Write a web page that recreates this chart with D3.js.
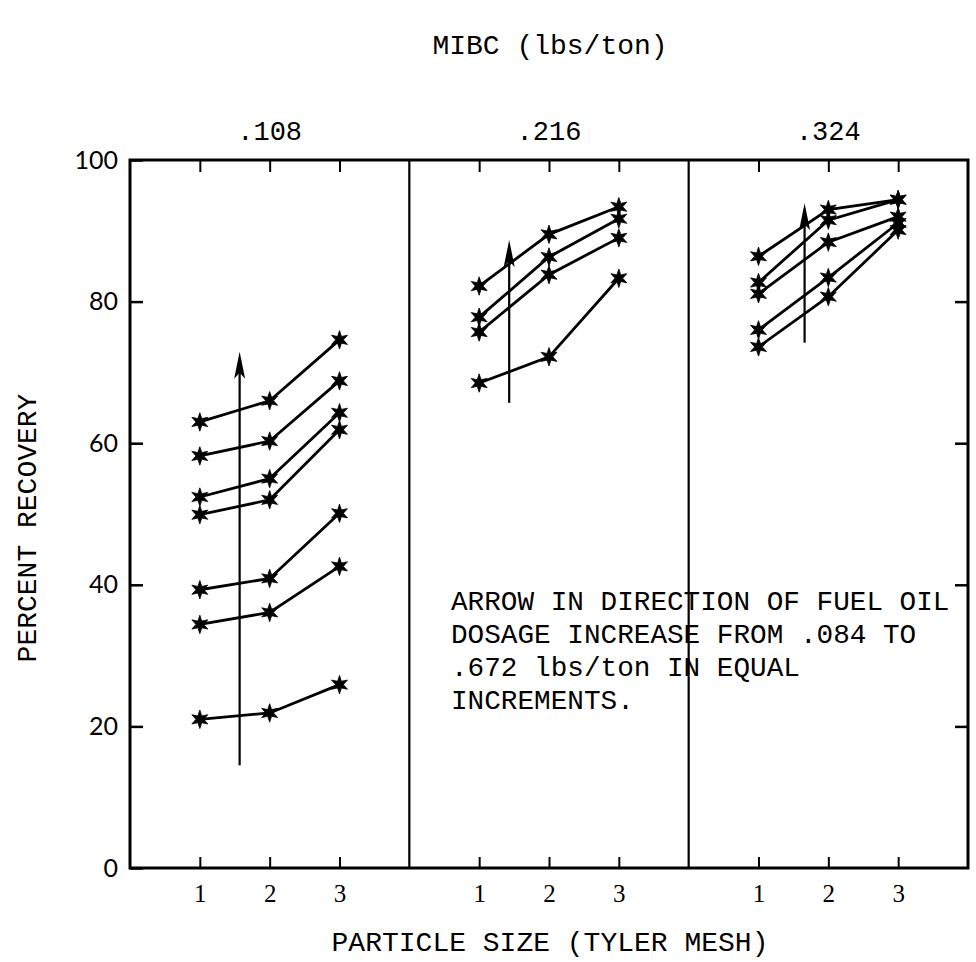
<!DOCTYPE html>
<html>
<head>
<meta charset="utf-8">
<script src="https://cdn.jsdelivr.net/npm/d3@7"></script>
<style>
  html, body { margin: 0; padding: 0; background: #fff; }
  svg { display: block; }
</style>
</head>
<body>
<svg id="chart" width="976" height="962"></svg>
<script>
// ---- data ----
const panelLabels = [".108", ".216", ".324"];
const particleSizes = [1, 2, 3];
const yTickValues = [0, 20, 40, 60, 80, 100];

const panel1Series = [
  [63.0, 66.0, 74.6],
  [58.2, 60.3, 68.8],
  [52.4, 55.0, 64.3],
  [49.9, 52.0, 61.9],
  [39.3, 40.9, 50.1],
  [34.4, 36.1, 42.6],
  [21.0, 21.9, 25.9]
];
const panel2Series = [
  [82.2, 89.5, 93.4],
  [77.8, 86.3, 91.7],
  [75.7, 83.8, 89.0],
  [68.5, 72.2, 83.3]
];
const panel3Series = [
  [86.4, 93.0, 94.4],
  [82.7, 91.5, 94.4],
  [81.1, 88.4, 92.0],
  [76.0, 83.4, 91.1],
  [73.6, 80.7, 90.1]
];
const arrowX = [1.57, 1.43, 1.66];
const arrowFrom = [14.5, 65.7, 74.2];
const arrowTo = [72.9, 88.7, 93.9];

const topTitle = "MIBC (lbs/ton)";
const xTitle = "PARTICLE SIZE (TYLER MESH)";
const yTitle = "PERCENT RECOVERY";
const noteLines = [
  "ARROW IN DIRECTION OF FUEL OIL",
  "DOSAGE INCREASE FROM .084 TO",
  ".672 lbs/ton IN EQUAL",
  "INCREMENTS."
];

(function () {
// ---- layout ----
const svg = d3.select("#chart");
const mLeft = 130, mRight = 968, mTop = 160, mBottom = 868;
const mono = "'Liberation Mono', 'DejaVu Sans Mono', monospace";

const y = d3.scaleLinear().domain([0, 100]).range([mBottom, mTop]);
const panelEdge = d3.scaleLinear().domain([0, 3]).range([mLeft, mRight]);
const panelX = i => d3.scaleLinear().domain([0, 4]).range([panelEdge(i), panelEdge(i + 1)]);

const allSeries = [panel1Series, panel2Series, panel3Series];

// six-pointed star symbol
const star6 = {
  draw(context, size) {
    const ro = Math.sqrt(size) / 2, ri = ro * 0.42;
    for (let k = 0; k < 12; k++) {
      const a = -Math.PI / 2 + k * Math.PI / 6;
      const r = k % 2 ? ri : ro;
      const px = r * Math.cos(a), py = r * Math.sin(a);
      if (k === 0) context.moveTo(px, py); else context.lineTo(px, py);
    }
    context.closePath();
  }
};

// frame
svg.append("rect")
  .attr("x", mLeft).attr("y", mTop)
  .attr("width", mRight - mLeft).attr("height", mBottom - mTop)
  .attr("fill", "none").attr("stroke", "#000").attr("stroke-width", 3);

// panel dividers
[1, 2].forEach(i => {
  svg.append("line")
    .attr("x1", panelEdge(i)).attr("x2", panelEdge(i))
    .attr("y1", mTop).attr("y2", mBottom)
    .attr("stroke", "#000").attr("stroke-width", 2.2);
});

// left axis (inward ticks) with labels
const yAxisL = svg.append("g").attr("transform", `translate(${mLeft},0)`)
  .call(d3.axisLeft(y).tickValues(yTickValues).tickSize(-13).tickPadding(12));
yAxisL.select(".domain").remove();
yAxisL.selectAll("line").attr("stroke", "#000").attr("stroke-width", 2.5);
yAxisL.selectAll("text")
  .attr("font-family", "Lato, 'Open Sans', sans-serif")
  .attr("font-weight", 400)
  .attr("font-size", 25)
  .attr("fill", "#000");

// right axis (inward ticks, no labels)
const yAxisR = svg.append("g").attr("transform", `translate(${mRight},0)`)
  .call(d3.axisRight(y).tickValues(yTickValues.slice(1, -1)).tickSize(-13).tickFormat(""));
yAxisR.select(".domain").remove();
yAxisR.selectAll("line").attr("stroke", "#000").attr("stroke-width", 2.5);

// per panel
allSeries.forEach((series, i) => {
  const x = panelX(i);

  // bottom axis
  const bx = svg.append("g").attr("transform", `translate(0,${mBottom})`)
    .call(d3.axisBottom(x).tickValues(particleSizes).tickFormat(d3.format("d"))
      .tickSize(-11).tickPadding(16));
  bx.select(".domain").remove();
  bx.selectAll("line").attr("stroke", "#000").attr("stroke-width", 2);
  bx.selectAll("text")
    .attr("font-family", "'Liberation Serif', serif")
    .attr("font-size", 25)
    .attr("fill", "#000");

  // top axis ticks
  const tx = svg.append("g").attr("transform", `translate(0,${mTop})`)
    .call(d3.axisTop(x).tickValues(particleSizes).tickSize(-12).tickFormat(""));
  tx.select(".domain").remove();
  tx.selectAll("line").attr("stroke", "#000").attr("stroke-width", 2);

  // panel label
  svg.append("text")
    .attr("x", x(2)).attr("y", 140)
    .attr("text-anchor", "middle")
    .attr("font-family", mono).attr("font-size", 27)
    .text(panelLabels[i]);

  // arrow
  const ax = x(arrowX[i]);
  svg.append("line")
    .attr("x1", ax).attr("x2", ax)
    .attr("y1", y(arrowFrom[i])).attr("y2", y(arrowTo[i]) + 12)
    .attr("stroke", "#000").attr("stroke-width", 2.2);
  const ty = y(arrowTo[i]);
  svg.append("path")
    .attr("d", `M${ax},${ty} L${ax - 5.5},${ty + 27} L${ax},${ty + 21} L${ax + 5.5},${ty + 27} Z`)
    .attr("fill", "#000");

  // lines
  const line = d3.line().x((d, k) => x(particleSizes[k])).y(d => y(d));
  svg.append("g").selectAll("path").data(series).join("path")
    .attr("d", line)
    .attr("fill", "none").attr("stroke", "#000").attr("stroke-width", 2.8);

  // star markers
  const pts = series.flatMap(s => s.map((v, k) => [x(particleSizes[k]), y(v)]));
  svg.append("g").selectAll("path").data(pts).join("path")
    .attr("transform", d => `translate(${d[0]},${d[1]})`)
    .attr("d", d3.symbol(star6, 340))
    .attr("fill", "#000").attr("stroke", "#000").attr("stroke-width", 0.8);
});

// titles
svg.append("text")
  .attr("x", 550).attr("y", 54)
  .attr("text-anchor", "middle")
  .attr("font-family", mono).attr("font-size", 28)
  .text(topTitle);

svg.append("text")
  .attr("x", 550).attr("y", 951)
  .attr("text-anchor", "middle")
  .attr("font-family", mono).attr("font-size", 28)
  .text(xTitle);

svg.append("text")
  .attr("transform", "translate(36,528) rotate(-90)")
  .attr("text-anchor", "middle")
  .attr("font-family", mono).attr("font-size", 28)
  .text(yTitle);

// note
const note = svg.append("text")
  .attr("font-family", mono).attr("font-size", 27.7);
noteLines.forEach((t, k) => {
  note.append("tspan").attr("x", 451).attr("y", 610 + k * 33).text(t);
});
})();
</script>
</body>
</html>
